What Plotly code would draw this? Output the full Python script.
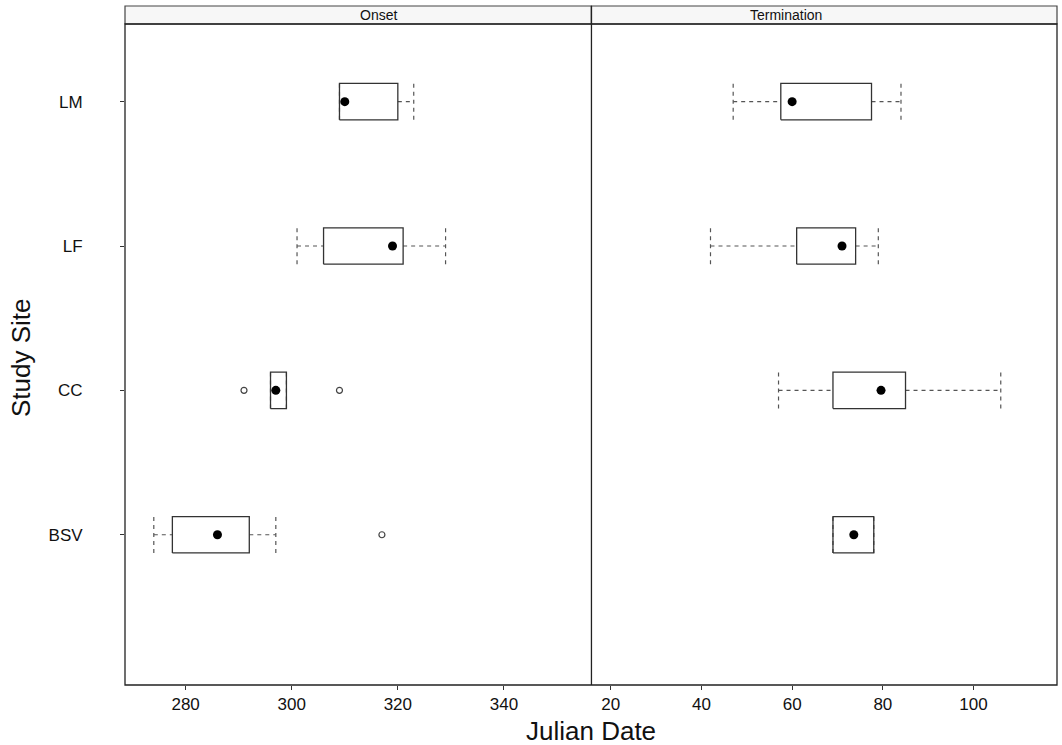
import plotly.graph_objects as go

# ---- data ----
sites = ["BSV", "CC", "LF", "LM"]
site_pos = [1, 2, 3, 4]

onset_lower = [274.0, 296.0, 301.0, 309.0]
onset_q1 = [277.5, 296.0, 306.0, 309.0]
onset_median = [286.0, 297.0, 319.0, 310.0]
onset_q3 = [292.0, 299.0, 321.0, 320.0]
onset_upper = [297.0, 299.0, 329.0, 323.0]
onset_outlier_site = ["BSV", "CC", "CC"]
onset_outlier_value = [317.0, 291.0, 309.0]

term_lower = [69.0, 57.0, 42.0, 47.0]
term_q1 = [69.0, 69.0, 61.0, 57.5]
term_median = [73.6, 79.6, 71.0, 60.0]
term_q3 = [78.0, 85.0, 74.0, 77.5]
term_upper = [78.0, 106.0, 79.0, 84.0]
term_outlier_site = []
term_outlier_value = []

panels = ["Onset", "Termination"]
onset_ticks = [280, 300, 320, 340]
term_ticks = [20, 40, 60, 80, 100]

# ---- styling ----
W, H = 1062, 745
ML, MR, MT, MB = 125, 4.5, 24, 60
PW = W - ML - MR
PH = H - MT - MB
split = (591.7 - ML) / PW
half = 0.126  # half box height in y units
FONT = "Liberation Sans, Arial, Helvetica, sans-serif"
BOX_COL = "#333333"
WHISK_COL = "#555555"

fig = go.Figure()


def add_panel(xaxis, lower, q1, med, q3, upper, out_site, out_val):
    pos = dict(zip(sites, site_pos))
    for i, y in enumerate(site_pos):
        # whiskers (dashed)
        for a, b in ((lower[i], q1[i]), (q3[i], upper[i])):
            fig.add_trace(go.Scatter(
                x=[a, b], y=[y, y], xaxis=xaxis, yaxis="y", mode="lines",
                line=dict(color=WHISK_COL, width=1.2, dash="4px,4px"),
                hoverinfo="skip", showlegend=False))
        # caps (dashed)
        for v in (lower[i], upper[i]):
            fig.add_trace(go.Scatter(
                x=[v, v], y=[y - half, y + half], xaxis=xaxis, yaxis="y",
                mode="lines",
                line=dict(color=WHISK_COL, width=1.2, dash="4px,4px"),
                hoverinfo="skip", showlegend=False))
        # box
        fig.add_trace(go.Scatter(
            x=[q1[i], q3[i], q3[i], q1[i], q1[i]],
            y=[y - half, y - half, y + half, y + half, y - half],
            xaxis=xaxis, yaxis="y", mode="lines",
            line=dict(color=BOX_COL, width=1.3),
            hoverinfo="skip", showlegend=False))
    # medians as dots
    fig.add_trace(go.Scatter(
        x=med, y=site_pos, xaxis=xaxis, yaxis="y", mode="markers",
        marker=dict(color="black", size=9),
        hoverinfo="x", showlegend=False))
    # outliers
    if out_val:
        fig.add_trace(go.Scatter(
            x=out_val, y=[pos[s] for s in out_site], xaxis=xaxis, yaxis="y",
            mode="markers",
            marker=dict(symbol="circle-open", color="#444444", size=6,
                        line=dict(width=1.2)),
            hoverinfo="x", showlegend=False))


add_panel("x", onset_lower, onset_q1, onset_median, onset_q3, onset_upper,
          onset_outlier_site, onset_outlier_value)
add_panel("x2", term_lower, term_q1, term_median, term_q3, term_upper,
          term_outlier_site, term_outlier_value)

axis_common = dict(
    showgrid=False, zeroline=False, ticks="outside", ticklen=4,
    tickcolor="#333333", tickfont=dict(family=FONT, size=17, color="#111111"),
    showline=False, fixedrange=True)

strip_h = 18 / PH
shapes = [
    # panel frame
    dict(type="rect", xref="paper", yref="paper", x0=0, x1=1, y0=0, y1=1,
         line=dict(color="#222222", width=1.3)),
    dict(type="line", xref="paper", yref="paper", x0=split, x1=split,
         y0=0, y1=1 + strip_h, line=dict(color="#222222", width=1.3)),
    # strips
    dict(type="rect", xref="paper", yref="paper", x0=0, x1=split,
         y0=1, y1=1 + strip_h, fillcolor="#f7f7f7",
         line=dict(color="#444444", width=1.2), layer="below"),
    dict(type="rect", xref="paper", yref="paper", x0=split, x1=1,
         y0=1, y1=1 + strip_h, fillcolor="#f7f7f7",
         line=dict(color="#444444", width=1.2), layer="below"),
]

annotations = [
    dict(text=panels[0], xref="paper", yref="paper", x=split / 2,
         y=1 + strip_h / 2, showarrow=False, yanchor="middle",
         font=dict(family=FONT, size=14, color="#111111")),
    dict(text=panels[1], xref="paper", yref="paper", x=(split + 1) / 2,
         y=1 + strip_h / 2, showarrow=False, yanchor="middle",
         font=dict(family=FONT, size=14, color="#111111")),
    dict(text="Julian Date", xref="paper", yref="paper", x=0.5,
         y=(685 - 731) / PH, showarrow=False, yanchor="middle",
         font=dict(family=FONT, size=26, color="#111111")),
    dict(text="Study Site", xref="paper", yref="paper",
         x=(21 - ML) / PW, y=(685 - 358) / PH, showarrow=False,
         textangle=-90, xanchor="center", yanchor="middle",
         font=dict(family=FONT, size=26, color="#111111")),
]

fig.update_layout(
    width=W, height=H,
    margin=dict(l=ML, r=MR, t=MT, b=MB),
    paper_bgcolor="white", plot_bgcolor="white",
    xaxis=dict(domain=[0, split], range=[268.57, 356.5],
               tickvals=onset_ticks, anchor="y", **axis_common),
    xaxis2=dict(domain=[split, 1], range=[15.75, 118.4],
                tickvals=term_ticks, anchor="y", **axis_common),
    yaxis=dict(domain=[0, 1], range=[-0.041, 4.538], tickvals=site_pos,
               ticktext=sites, anchor="x", ticklabelstandoff=34,
               **axis_common),
    shapes=shapes, annotations=annotations,
    showlegend=False,
)

fig.write_html("out.html",
               config={"displayModeBar": False},
               post_script="document.body.style.margin='0';")
